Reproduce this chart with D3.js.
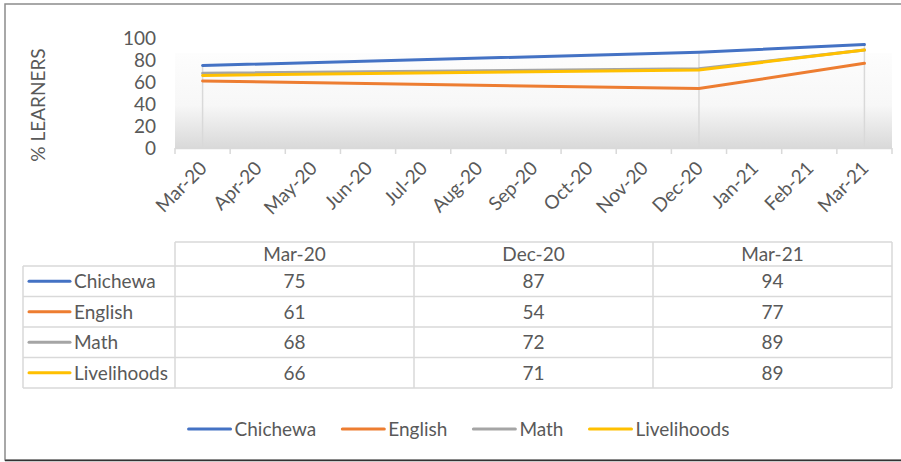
<!DOCTYPE html>
<meta charset="utf-8">
<style>
body { margin: 0; background: #fff; }
svg text { font-family: Lato, "Noto Sans", sans-serif; fill: #595959; font-size: 19px; }
</style>
<svg width="901" height="462"></svg>
<script src="https://d3js.org/d3.v7.min.js"></script>
<script>
var months = ["Mar-20", "Apr-20", "May-20", "Jun-20", "Jul-20", "Aug-20", "Sep-20",
              "Oct-20", "Nov-20", "Dec-20", "Jan-21", "Feb-21", "Mar-21"];
var surveyMonths = ["Mar-20", "Dec-20", "Mar-21"];
var series = ["Chichewa", "English", "Math", "Livelihoods"];
var chichewa = [75, 87, 94];
var english = [61, 54, 77];
var math = [68, 72, 89];
var livelihoods = [66, 71, 89];
var yTicks = [0, 20, 40, 60, 80, 100];
var colors = ["#4472C4", "#ED7D31", "#A5A5A5", "#FFC000"];

var values = [chichewa, english, math, livelihoods];
var svg = d3.select("svg");

// frame
svg.append("rect").attr("x", 5).attr("y", 4).attr("width", 1000).attr("height", 456)
    .attr("fill", "none").attr("stroke", "#8c8c8c").attr("stroke-width", 1.5);
svg.append("line").attr("x1", 5).attr("x2", 901).attr("y1", 460.5).attr("y2", 460.5)
    .attr("stroke", "#333").attr("stroke-width", 1.5);

var left = 175, right = 892;
var x = d3.scaleBand().domain(months).range([left, right]);
var y = d3.scaleLinear().domain([0, 100]).range([148, 38]);

// plot background gradient
var grad = svg.append("defs").append("linearGradient")
    .attr("id", "bg").attr("x1", 0).attr("y1", 0).attr("x2", 0).attr("y2", 1);
grad.append("stop").attr("offset", "0%").attr("stop-color", "#fdfdfd");
grad.append("stop").attr("offset", "55%").attr("stop-color", "#f7f7f7");
grad.append("stop").attr("offset", "100%").attr("stop-color", "#d9d9d9");
svg.append("rect").attr("x", left).attr("y", 53).attr("width", right - left)
    .attr("height", y(0) - 53).attr("fill", "url(#bg)");

// y axis labels
svg.append("g").selectAll("text").data(yTicks).enter().append("text")
    .attr("x", 156).attr("y", function(d) { return y(d); })
    .attr("dy", "0.36em").attr("text-anchor", "end")
    .text(function(d) { return d; });

svg.append("text")
    .attr("transform", "translate(45,105) rotate(-90)")
    .attr("text-anchor", "middle")
    .text("% LEARNERS");

// x axis
var xAxis = svg.append("g").attr("transform", "translate(0," + y(0) + ")");
xAxis.append("line").attr("x1", left).attr("x2", right).attr("y1", 0.5).attr("y2", 0.5)
    .attr("stroke", "#d9d9d9").attr("stroke-width", 1.5);
var edges = months.map(function(m) { return x(m); }).concat([right]);
xAxis.selectAll(".tick").data(edges).enter().append("line")
    .attr("x1", function(d) { return d; }).attr("x2", function(d) { return d; })
    .attr("y1", 0).attr("y2", 6).attr("stroke", "#d9d9d9").attr("stroke-width", 1.5);
xAxis.selectAll("text").data(months).enter().append("text")
    .attr("transform", function(d) {
        return "translate(" + (x(d) + x.bandwidth() / 2 - 4) + ",12) rotate(-45)";
    })
    .attr("text-anchor", "end").attr("dy", "0.7em")
    .text(function(d) { return d; });

// drop lines
var cx = function(m) { return x(m) + x.bandwidth() / 2; };
svg.append("g").selectAll("line").data(surveyMonths).enter().append("line")
    .attr("x1", cx).attr("x2", cx)
    .attr("y1", function(d, i) { return y(d3.max(values, function(v) { return v[i]; })); })
    .attr("y2", y(0))
    .attr("stroke", "#d9d9d9").attr("stroke-width", 1.5);

// lines
var line = d3.line()
    .x(function(d, i) { return cx(surveyMonths[i]); })
    .y(function(d) { return y(d); });
svg.append("g").selectAll("path").data(values).enter().append("path")
    .attr("d", line).attr("fill", "none")
    .attr("stroke", function(d, i) { return colors[i]; })
    .attr("stroke-width", 3).attr("stroke-linecap", "round");

// data table
var tLeft = 23, tTop = 242, headH = 24, rowH = 30.5;
var col = d3.scaleBand().domain(surveyMonths).range([left, right]);
var tbl = svg.append("g");
var border = "#d9d9d9";
var tBottom = tTop + headH + rowH * series.length;
// horizontal lines
tbl.append("line").attr("x1", left).attr("x2", right).attr("y1", tTop).attr("y2", tTop)
    .attr("stroke", border).attr("stroke-width", 1.5);
d3.range(series.length + 1).forEach(function(r) {
    var yy = tTop + headH + r * rowH;
    tbl.append("line").attr("x1", tLeft).attr("x2", right).attr("y1", yy).attr("y2", yy)
        .attr("stroke", border).attr("stroke-width", 1.5);
});
// vertical lines
tbl.append("line").attr("x1", tLeft).attr("x2", tLeft).attr("y1", tTop + headH).attr("y2", tBottom)
    .attr("stroke", border).attr("stroke-width", 1.5);
surveyMonths.concat(["end"]).forEach(function(m) {
    var xx = m === "end" ? right : col(m);
    tbl.append("line").attr("x1", xx).attr("x2", xx).attr("y1", tTop).attr("y2", tBottom)
        .attr("stroke", border).attr("stroke-width", 1.5);
});
// header
tbl.selectAll(".hd").data(surveyMonths).enter().append("text")
    .attr("x", function(d) { return col(d) + col.bandwidth() / 2; })
    .attr("y", tTop + headH / 2).attr("dy", "0.36em").attr("text-anchor", "middle")
    .text(function(d) { return d; });
// rows
series.forEach(function(s, r) {
    var cy = tTop + headH + r * rowH + rowH / 2;
    tbl.append("line").attr("x1", 29).attr("x2", 70).attr("y1", cy).attr("y2", cy)
        .attr("stroke", colors[r]).attr("stroke-width", 3).attr("stroke-linecap", "round");
    tbl.append("text").attr("x", 74).attr("y", cy).attr("dy", "0.36em")
        .text(s);
    values[r].forEach(function(v, i) {
        tbl.append("text").attr("x", col(surveyMonths[i]) + col.bandwidth() / 2)
            .attr("y", cy).attr("dy", "0.36em").attr("text-anchor", "middle")
            .text(v);
    });
});

// legend
var leg = svg.append("g");
var lx = 0, legY = 429;
series.forEach(function(s, i) {
    var g = leg.append("g").attr("transform", "translate(" + lx + ",0)");
    g.append("line").attr("x1", 0).attr("x2", 42).attr("y1", legY).attr("y2", legY)
        .attr("stroke", colors[i]).attr("stroke-width", 3).attr("stroke-linecap", "round");
    var t = g.append("text").attr("x", 46).attr("y", legY).attr("dy", "0.36em")
        .text(s);
    lx += 46 + t.node().getComputedTextLength() + 26;
});
var legW = lx - 26;
leg.attr("transform", "translate(" + (459 - legW / 2) + ",0)");
</script>
